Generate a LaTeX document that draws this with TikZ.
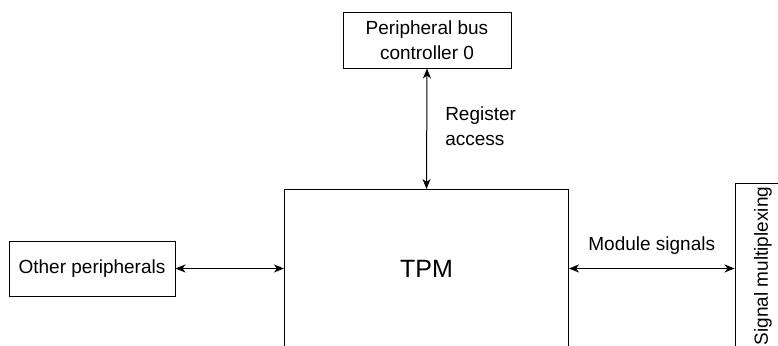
\documentclass[tikz,border=0pt]{standalone}
\usepackage{fontspec}
\setmainfont{Liberation Sans}
\usetikzlibrary{arrows.meta,positioning}

\begin{document}
\begin{tikzpicture}[
        x=1pt, y=-1pt,
        % Estilos
        box/.style={rectangle, draw, line width=1pt, align=center, inner sep=0pt,
            font=\fontsize{19}{25}\selectfont},
        lbl/.style={inner sep=0pt, align=left, font=\fontsize{19}{25}\selectfont},
        arrow/.style={{Stealth[length=10pt,width=8pt,inset=3pt]}-{Stealth[length=10pt,width=8pt,inset=3pt]}, line width=1pt}
    ]
        % Margens da figura
        \useasboundingbox (0,0) rectangle (778,345);
        \clip (0,0) rectangle (778,345);

        % Bloco central (cortado em baixo)
        \node (tpm) [box, minimum width=284pt, minimum height=158pt, anchor=north west,
            font=\fontsize{25}{30}\selectfont] at (284,189) {TPM};

        % Controlador de barramento
        \node (pbc) [box, minimum width=168pt, minimum height=55pt] at (427,40.5) {Peripheral bus\\controller 0};

        % Outros periféricos
        \node (other) [box, minimum width=166pt, minimum height=55pt] at (92,268.5) {Other peripherals};

        % Multiplexação de sinais (texto rodado)
        \node (sigmux) [box, rotate=90, minimum width=166pt, minimum height=56pt] at (763,266) {Signal multiplexing};

        % --- Linhas de Conexão ---
        \draw [arrow] (pbc.south) -- (tpm.north)
            node [lbl, midway, right=18pt, yshift=2.5pt] {Register\\access};
        \draw [arrow] (other.east) -- (other.east -| tpm.west);
        \draw [arrow] (tpm.east) -- (tpm.east -| sigmux.north)
            node [lbl, midway, above=14pt] {Module signals};

    \end{tikzpicture}
\end{document}
